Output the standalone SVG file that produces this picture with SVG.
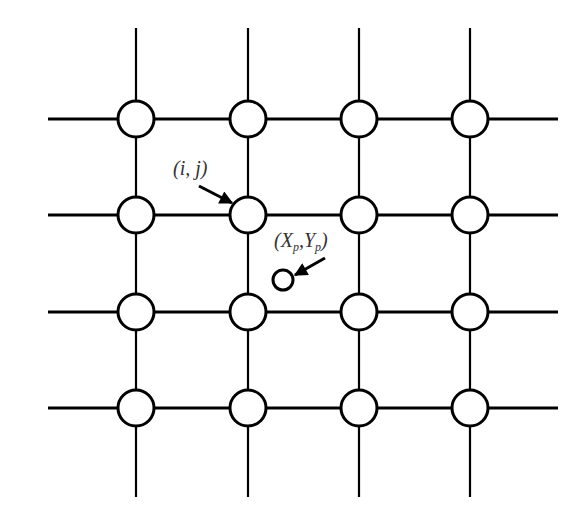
<svg xmlns="http://www.w3.org/2000/svg" width="583" height="515" viewBox="0 0 583 515">
<defs>
<style>
.h{stroke:#000;stroke-width:3;fill:none}
.v{stroke:#000;stroke-width:2.2;fill:none}
.n{fill:#fff;stroke:#000;stroke-width:3}
.lbl{font-family:"Liberation Serif",serif;font-style:italic;font-size:20px;fill:#333}
.sub{font-size:12px}
.ar{stroke:#000;stroke-width:3;fill:none}
</style>
<marker id="ah" viewBox="0 0 10 10" refX="9" refY="5" markerWidth="5" markerHeight="4.5" orient="auto" markerUnits="strokeWidth">
<path d="M0,0 L10,5 L0,10 z" fill="#000"/>
</marker>
</defs>
<rect width="583" height="515" fill="#fff"/>
<g id="connectors">
<line class="h" x1="48" y1="119" x2="558" y2="119"/>
<line class="h" x1="48" y1="215" x2="558" y2="215"/>
<line class="h" x1="48" y1="312" x2="558" y2="312"/>
<line class="h" x1="48" y1="408" x2="558" y2="408"/>
<line class="v" x1="136" y1="28" x2="136" y2="497"/>
<line class="v" x1="248" y1="28" x2="248" y2="497"/>
<line class="v" x1="359" y1="28" x2="359" y2="497"/>
<line class="v" x1="470" y1="28" x2="470" y2="497"/>
<line class="ar" x1="199" y1="186" x2="232" y2="203" marker-end="url(#ah)"/>
<line class="ar" x1="325" y1="258" x2="295" y2="275" marker-end="url(#ah)"/>
</g>
<g id="nodes">
<g id="n11"><circle class="n" cx="136" cy="119" r="18"/></g>
<g id="n12"><circle class="n" cx="248" cy="119" r="18"/></g>
<g id="n13"><circle class="n" cx="359" cy="119" r="18"/></g>
<g id="n14"><circle class="n" cx="470" cy="119" r="18"/></g>
<g id="n21"><circle class="n" cx="136" cy="215" r="18"/></g>
<g id="n22"><circle class="n" cx="248" cy="215" r="18"/></g>
<g id="n23"><circle class="n" cx="359" cy="215" r="18"/></g>
<g id="n24"><circle class="n" cx="470" cy="215" r="18"/></g>
<g id="n31"><circle class="n" cx="136" cy="312" r="18"/></g>
<g id="n32"><circle class="n" cx="248" cy="312" r="18"/></g>
<g id="n33"><circle class="n" cx="359" cy="312" r="18"/></g>
<g id="n34"><circle class="n" cx="470" cy="312" r="18"/></g>
<g id="n41"><circle class="n" cx="136" cy="408" r="18"/></g>
<g id="n42"><circle class="n" cx="248" cy="408" r="18"/></g>
<g id="n43"><circle class="n" cx="359" cy="408" r="18"/></g>
<g id="n44"><circle class="n" cx="470" cy="408" r="18"/></g>
<g id="point"><circle class="n" cx="283" cy="280" r="10" stroke-width="2.5"/></g>
</g>
<g id="labels">
<text class="lbl" x="173" y="175">(<tspan>i</tspan>, <tspan>j</tspan>)</text>
<text class="lbl" x="274" y="247">(X<tspan class="sub" dy="4">p</tspan><tspan dy="-4">,Y</tspan><tspan class="sub" dy="4">p</tspan><tspan dy="-4">)</tspan></text>
</g>
</svg>
